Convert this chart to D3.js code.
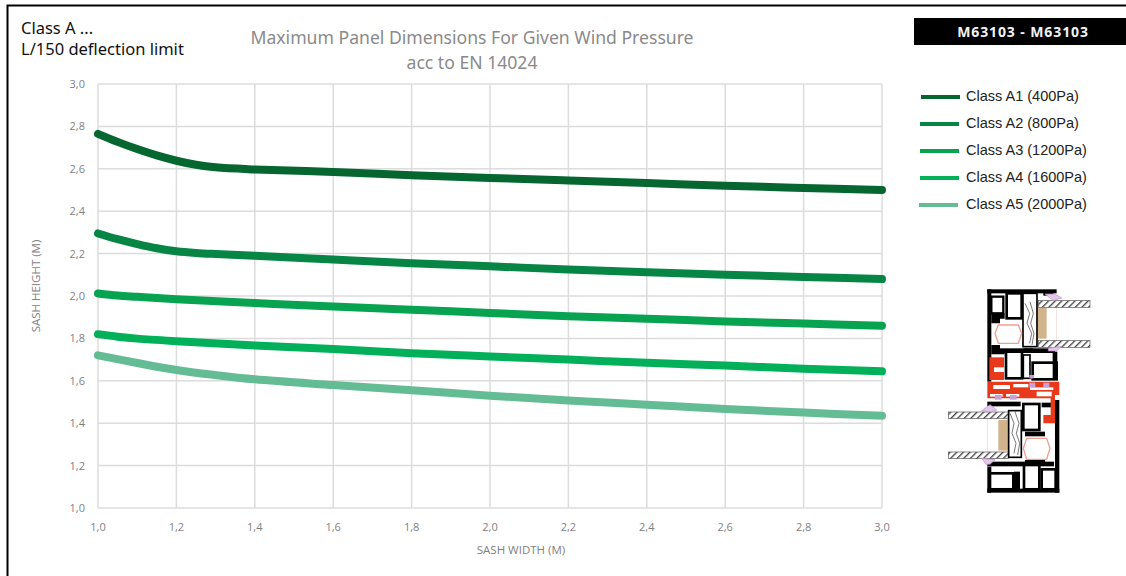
<!DOCTYPE html>
<html><head><meta charset="utf-8">
<script src="https://cdn.jsdelivr.net/npm/d3@7/dist/d3.min.js"></script>
<style>
html,body{margin:0;padding:0;background:#fff}
svg{display:block}
text{font-family:"Noto Sans",sans-serif}
</style></head><body>
<svg id="c" width="1126" height="576"></svg>
<script>
const xTicks=[1.0,1.2,1.4,1.6,1.8,2.0,2.2,2.4,2.6,2.8,3.0];
const yTicks=[1.0,1.2,1.4,1.6,1.8,2.0,2.2,2.4,2.6,2.8,3.0];
const widthsA1=[1.0,1.05,1.1,1.15,1.2,1.25,1.3,1.4,1.6,1.8,2.0,2.2,2.4,2.6,2.8,3.0];
const heightsA1=[2.765,2.727,2.693,2.663,2.638,2.619,2.607,2.597,2.585,2.57,2.557,2.545,2.533,2.52,2.51,2.50];
const widthsA2=[1.0,1.05,1.1,1.15,1.2,1.25,1.3,1.4,1.6,1.8,2.0,2.2,2.4,2.6,2.8,3.0];
const heightsA2=[2.295,2.268,2.245,2.225,2.211,2.203,2.198,2.19,2.172,2.155,2.14,2.125,2.112,2.10,2.09,2.08];
const widthsA3=[1.0,1.05,1.1,1.2,1.4,1.6,1.8,2.0,2.2,2.4,2.6,2.8,3.0];
const heightsA3=[2.012,2.002,1.996,1.985,1.967,1.95,1.935,1.92,1.905,1.893,1.88,1.87,1.86];
const widthsA4=[1.0,1.05,1.1,1.2,1.4,1.6,1.8,2.0,2.2,2.4,2.6,2.8,3.0];
const heightsA4=[1.82,1.808,1.799,1.787,1.767,1.75,1.73,1.715,1.70,1.685,1.672,1.657,1.645];
const widthsA5=[1.0,1.1,1.2,1.3,1.4,1.6,1.8,2.0,2.2,2.4,2.6,2.8,3.0];
const heightsA5=[1.72,1.684,1.651,1.627,1.607,1.58,1.555,1.53,1.507,1.487,1.467,1.45,1.435];
const seriesNames=["Class A1 (400Pa)","Class A2 (800Pa)","Class A3 (1200Pa)","Class A4 (1600Pa)","Class A5 (2000Pa)"];
const seriesX=[widthsA1,widthsA2,widthsA3,widthsA4,widthsA5];
const seriesY=[heightsA1,heightsA2,heightsA3,heightsA4,heightsA5];
const seriesColors=["#05662f","#068544","#07a350","#02b05a","#64bc94"];

const svg=d3.select("#c");
const x=d3.scaleLinear().domain([1,3]).range([98,882]);
const y=d3.scaleLinear().domain([1,3]).range([508,84]);
const fmt=d=>d.toFixed(1).replace(".",",");

// frame
svg.append("path").attr("d","M7.5,576V5.5H1126").attr("fill","none").attr("stroke","#000").attr("stroke-width",2);

// grid
const grid=svg.append("g").attr("stroke","#dcdcdc").attr("stroke-width",1.5);
grid.selectAll(".v").data(xTicks).join("line").attr("x1",d=>x(d)).attr("x2",d=>x(d)).attr("y1",y(3)).attr("y2",y(1));
grid.selectAll(".h").data(yTicks).join("line").attr("y1",d=>y(d)).attr("y2",d=>y(d)).attr("x1",x(1)).attr("x2",x(3));

// axes
const ax=d3.axisBottom(x).tickValues(xTicks).tickFormat(fmt).tickSize(0).tickPadding(0);
const gx=svg.append("g").attr("transform",`translate(-0.5,${y(1)+15})`).call(ax);
const ay=d3.axisLeft(y).tickValues(yTicks).tickFormat(fmt).tickSize(0).tickPadding(0);
const gy=svg.append("g").attr("transform",`translate(${x(1)-13},0)`).call(ay);
[gx,gy].forEach(g=>{g.select(".domain").remove();g.selectAll("text").attr("fill","#7f7f7f").attr("font-size",11).style("font-family",'"Open Sans",sans-serif');});

svg.append("text").attr("x",521).attr("y",554).attr("text-anchor","middle").attr("font-size",11.5).attr("fill","#7f7f7f").style("font-family",'"Open Sans",sans-serif').text("SASH WIDTH (M)");
svg.append("text").attr("transform","translate(39.5,286) rotate(-90)").attr("text-anchor","middle").attr("font-size",11.5).attr("fill","#7f7f7f").style("font-family",'"Open Sans",sans-serif').text("SASH HEIGHT (M)");

// lines
const line=d3.line().x(d=>x(d[0])).y(d=>y(d[1])).curve(d3.curveCatmullRom.alpha(0.5));
seriesNames.forEach((n,i)=>{
  svg.append("path").datum(seriesX[i].map((v,j)=>[v,seriesY[i][j]])).attr("d",line)
    .attr("fill","none").attr("stroke",seriesColors[i]).attr("stroke-width",8).attr("stroke-linecap","round");
});

// titles
svg.append("text").attr("x",21).attr("y",34).attr("font-size",16.5).attr("fill","#111").text("Class A ...");
svg.append("text").attr("x",21).attr("y",55).attr("font-size",16.5).attr("fill","#111").text("L/150 deflection limit");
svg.append("text").attr("x",472).attr("y",44).attr("text-anchor","middle").attr("font-size",17.6).attr("fill","#8a8a8a").text("Maximum Panel Dimensions For Given Wind Pressure");
svg.append("text").attr("x",472).attr("y",69).attr("text-anchor","middle").attr("font-size",17.6).attr("fill","#8a8a8a").text("acc to EN 14024");

// badge
svg.append("rect").attr("x",914).attr("y",18).attr("width",212).attr("height",27).attr("fill","#000");
svg.append("text").attr("x",1023).attr("y",37).attr("text-anchor","middle").attr("font-size",14).attr("font-weight",700).attr("letter-spacing",0.9).attr("fill","#f2f2f2").text("M63103 - M63103");

// legend
const legendY=d3.scalePoint().domain(seriesNames).range([97,205]);
const legendLeft=[921,920,920,920,919];
seriesNames.forEach((n,i)=>{
  svg.append("line").attr("x1",legendLeft[i]).attr("x2",legendLeft[i]+39).attr("y1",legendY(n)).attr("y2",legendY(n)).attr("stroke",seriesColors[i]).attr("stroke-width",4);
  svg.append("text").attr("x",966).attr("y",legendY(n)+4).attr("font-size",14.5).attr("fill","#222").style("font-family",'"Liberation Sans",Arial,sans-serif').text(n);
});

// profile cross-section drawing (decoration), drawn in 3x units
const pic=svg.append("g").attr("transform","translate(930,280) scale(0.3333)");
const hatch=svg.append("defs").append("pattern").attr("id","h").attr("width",14).attr("height",14).attr("patternUnits","userSpaceOnUse").attr("patternTransform","rotate(45)");
hatch.append("rect").attr("width",14).attr("height",14).attr("fill","#fff");
hatch.append("rect").attr("width",4).attr("height",14).attr("fill","#444");
const R=(x0,y0,w,h,f,s,sw)=>pic.append("rect").attr("x",x0).attr("y",y0).attr("width",w).attr("height",h).attr("fill",f||"none").attr("stroke",s||"none").attr("stroke-width",sw||0);
const P=(d,f,s,sw)=>pic.append("path").attr("d",d).attr("fill",f||"none").attr("stroke",s||"none").attr("stroke-width",sw||0);
// pale pink outlines
R(320,70,60,125,"none","#eed5d5",2); R(172,405,60,130,"none","#eed5d5",2);
// glass
[[325,62,155,20],[325,182,155,20],[55,396,180,20],[55,516,180,20]].forEach(a=>R(a[0],a[1],a[2],a[3],"url(#h)","#555",2));
// beige seal
R(322,84,28,92,"#d2b48c"); R(205,420,30,92,"#d2b48c");
// black frames upper
R(172,28,208,12,"#000"); R(172,28,12,277,"#000");
R(184,50,36,50,"#fff","#000",7); R(230,40,45,75,"#fff","#000",8);
R(279,40,42,160,"#fff","#000",5);
P("M184,100h40v16h-14v14h-26Z","#000"); P("M184,195h26v20h14v8h-40Z","#000");
R(228,215,48,80,"#fff","#000",8); R(280,225,20,70,"#fff","#000",5);
R(308,248,72,50,"#fff","#000",8); R(205,205,170,14,"#000"); R(368,215,14,85,"#000");
R(340,35,30,12,"#000"); R(280,205,30,12,"#000");
// black frames lower
R(375,360,13,278,"#000"); R(172,626,216,12,"#000"); R(172,560,12,78,"#000");
R(172,365,100,14,"#000"); R(280,372,48,78,"#fff","#000",8); R(236,392,38,140,"#fff","#000",5);
R(335,368,40,14,"#000");
R(180,580,70,48,"#fff","#000",8); R(282,550,46,78,"#fff","#000",8); R(335,568,42,60,"#fff","#000",8);
R(172,545,200,14,"#000"); R(252,575,18,55,"#000");
R(285,455,60,14,"#000"); R(285,540,60,10,"#000");
// red thermal band
P("M172,305H388V345H375V430H340V405H362V355H172Z","#e8391a");
P("M178,232H222V300H178Z","#e8391a");
[[190,315,50,12],[250,312,45,10],[180,342,38,8],[228,342,40,8],[320,335,45,14],[300,322,70,8],[340,385,18,12],[192,262,30,14]].forEach(a=>R(a[0],a[1],a[2],a[3],"#fff"));
// thermal spring
P("M285,70l14,30l-8,30l14,30l-6,30M300,65l10,35l-8,30l10,30l-6,35","none","#333",2);
P("M240,400l12,30l-6,30l12,30l-6,30M255,395l12,35l-8,30l10,30l-6,35","none","#333",2);
// pink thermal chambers
P("M205,135H265L275,160L265,190H205L195,160Z","#fff","#f0a090",4);
P("M290,475H350L360,505L350,538H290L280,505Z","#fff","#f0a090",4);
// purple gaskets
[[298,308,18,14],[340,308,18,14],[195,345,20,14],[240,345,20,14],[298,285,14,10]].forEach(a=>R(a[0],a[1],a[2],a[3],"#c9a0d8"));
P("M345,42h30l20,12l-25,8Z","#e3c8ea","#b98ac8",2);
P("M355,205l40,-6l-15,14h-25Z","#e3c8ea","#b98ac8",2);
P("M155,392l25,-18l20,16l-20,6Z","#e3c8ea","#b98ac8",2);
P("M155,535l40,4l-15,14h-12Z","#e3c8ea","#b98ac8",2);
</script>
</body></html>
